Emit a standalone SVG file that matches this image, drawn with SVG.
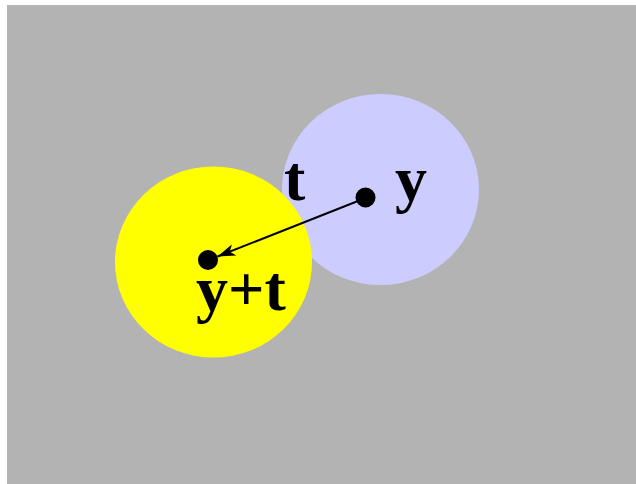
<svg xmlns="http://www.w3.org/2000/svg" width="636" height="484" viewBox="0 0 636 484">
<style>
.lbl{font-family:"Liberation Serif","Times New Roman",serif;font-weight:bold;font-size:64px;fill:#000}
.dot{fill:#000}
</style>
<defs>
<marker id="arr" viewBox="0 0 18 12" refX="18" refY="6" markerWidth="18" markerHeight="12" markerUnits="userSpaceOnUse" orient="auto">
<path d="M0,0 L18,6 L0,12 L5,6 Z" fill="#000"/>
</marker>
</defs>
<rect x="7" y="5" width="629" height="479" fill="#b3b3b3"/>
<g id="node-y">
<ellipse cx="380.5" cy="189.5" rx="98.5" ry="95.5" fill="#ccccff"/>
<circle class="dot" cx="365.5" cy="197.5" r="10"/>
<text class="lbl" x="395" y="200">y</text>
</g>
<g id="node-yt">
<ellipse cx="213.5" cy="262" rx="98.5" ry="95.5" fill="#ffff00"/>
<circle class="dot" cx="208" cy="260" r="10"/>
<text class="lbl" x="196" y="310">y+t</text>
</g>
<g id="connectors">
<line x1="358" y1="201" x2="217.5" y2="256.5" stroke="#000" stroke-width="2" marker-end="url(#arr)"/>
<text class="lbl" x="284" y="200">t</text>
</g>
</svg>
